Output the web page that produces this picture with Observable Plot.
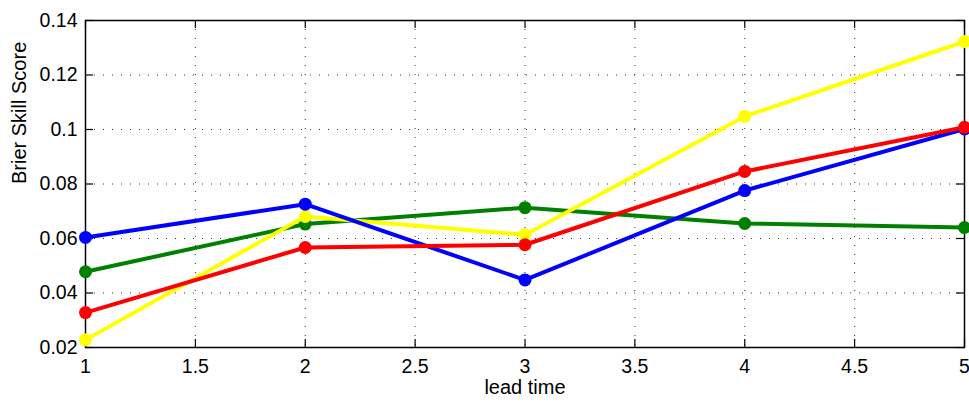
<!DOCTYPE html>
<html>
<head>
<meta charset="utf-8">
<script src="https://cdn.jsdelivr.net/npm/d3@7"></script>
<script src="https://cdn.jsdelivr.net/npm/@observablehq/plot@0.6"></script>
<style>
  html, body { margin: 0; padding: 0; background: #fff; }
  #chart svg { display: block; }
</style>
</head>
<body>
<div id="chart"></div>
<script>
// Brier Skill Score by lead time, four forecast systems
const leadTimes = [1, 2, 3, 4, 5];
const seriesNames = ["green", "yellow", "blue", "red"];
const seriesColors = ["#008000", "#ffff00", "#0000ff", "#ff0000"];
const greenScores  = [0.0478, 0.0653, 0.0713, 0.0655, 0.0640];
const yellowScores = [0.0228, 0.0681, 0.0614, 0.1048, 0.1323];
const blueScores   = [0.0604, 0.0726, 0.0448, 0.0776, 0.1002];
const redScores    = [0.0328, 0.0567, 0.0577, 0.0846, 0.1008];

const xTicks = [1, 1.5, 2, 2.5, 3, 3.5, 4, 4.5, 5];
const yTicks = [0.02, 0.04, 0.06, 0.08, 0.1, 0.12, 0.14];
const xTickLabels = ["1", "1.5", "2", "2.5", "3", "3.5", "4", "4.5", "5"];
const yTickLabels = ["0.02", "0.04", "0.06", "0.08", "0.1", "0.12", "0.14"];

const allScores = [greenScores, yellowScores, blueScores, redScores];
const rows = seriesNames.flatMap((name, i) =>
  leadTimes.map((t, j) => ({series: name, lead: t, score: allScores[i][j]}))
);

const W = 969, H = 403;
const mL = 85, mR = 5, mT = 20, mB = 56;
const innerW = W - mL - mR, innerH = H - mT - mB;
const tickLen = 8;
const font = "'Liberation Sans', Arial, Helvetica, sans-serif";

const chart = Plot.plot({
  width: W,
  height: H,
  marginLeft: mL,
  marginRight: mR,
  marginTop: mT,
  marginBottom: mB,
  style: {fontFamily: font, fontSize: "19.5px", color: "#000", background: "#fff"},
  x: {domain: [1, 5], axis: null},
  y: {domain: [0.02, 0.14], axis: null},
  color: {domain: seriesNames, range: seriesColors},
  marks: [
    // dotted grid
    Plot.ruleY(yTicks.slice(1, -1), {stroke: "#333", strokeWidth: 1, strokeDasharray: "1,8"}),
    Plot.ruleX(xTicks.slice(1, -1), {stroke: "#333", strokeWidth: 1, strokeDasharray: "1,8"}),
    // inward ticks on all four sides
    Plot.ruleY(yTicks, {stroke: "#000", strokeWidth: 1.2, insetRight: innerW - tickLen}),
    Plot.ruleY(yTicks, {stroke: "#000", strokeWidth: 1.2, insetLeft: innerW - tickLen}),
    Plot.ruleX(xTicks, {stroke: "#000", strokeWidth: 1.2, insetTop: innerH - tickLen}),
    Plot.ruleX(xTicks, {stroke: "#000", strokeWidth: 1.2, insetBottom: innerH - tickLen}),
    // tick labels
    Plot.text(xTicks, {x: d => d, text: (d, i) => xTickLabels[i], frameAnchor: "bottom", lineAnchor: "middle", dy: 19.5, fontSize: 19.5, fill: "#000"}),
    Plot.text(yTicks, {y: d => d, text: (d, i) => yTickLabels[i], frameAnchor: "left", lineAnchor: "middle", dx: -8, textAnchor: "end", fontSize: 19.5, fill: "#000"}),
    Plot.frame({stroke: "#000", strokeWidth: 1.5}),
    // series: line + markers, drawn one after another
    ...seriesNames.flatMap(name => {
      const d = rows.filter(r => r.series === name);
      return [
        Plot.line(d, {x: "lead", y: "score", stroke: "series", strokeWidth: 4}),
        Plot.dot(d, {x: "lead", y: "score", fill: "series", r: 6.5})
      ];
    }),
    Plot.text(["lead time"], {frameAnchor: "bottom", dy: 46, fontSize: 20, fill: "#000"}),
    Plot.text(["Brier Skill Score"], {frameAnchor: "left", dx: -66, rotate: -90, fontSize: 20, fill: "#000"})
  ]
});

document.getElementById("chart").appendChild(chart);
</script>
</body>
</html>
